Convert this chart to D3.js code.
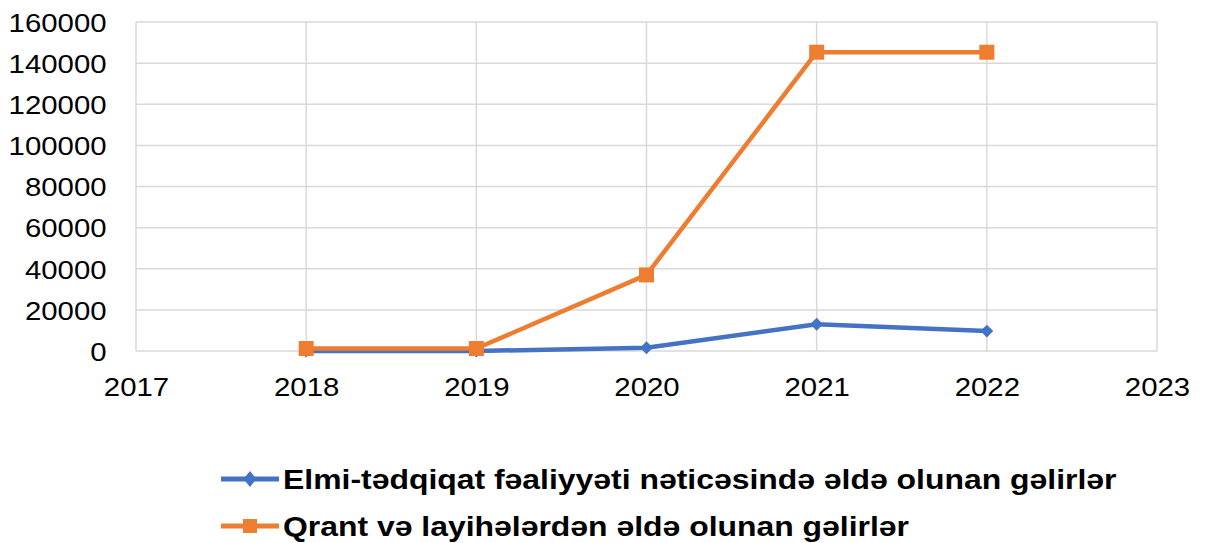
<!DOCTYPE html>
<html>
<head>
<meta charset="utf-8">
<script src="https://cdn.jsdelivr.net/npm/d3@7"></script>
<style>
  body { margin: 0; background: #fff; }
  text { font-family: "Liberation Sans", Arial, sans-serif; }
</style>
</head>
<body>
<script>
// years shown on the x axis (2017 and 2023 are empty ends)
var years = [2018, 2019, 2020, 2021, 2022];
var xTicks = [2017, 2018, 2019, 2020, 2021, 2022, 2023];
var yTicks = [0, 20000, 40000, 60000, 80000, 100000, 120000, 140000, 160000];

// series values
var elmiValues = [0, 0, 1600, 13000, 9700];
var qrantValues = [1200, 1200, 37000, 145300, 145300];

var seriesNames = [
  'Elmi-tədqiqat fəaliyyəti nəticəsində əldə olunan gəlirlər',
  'Qrant və layihələrdən əldə olunan gəlirlər'
];
var colors = ['#4472C4', '#ED7D31'];

var width = 1207, height = 543;
var margin = {left: 136, right: 50, top: 22, bottom: 192};

// the original picture is a bit wider than tall, so stretch the text
var stretch = 'scale(1.13,1)';

var svg = d3.select('body').append('svg')
  .attr('width', width)
  .attr('height', height);

var x = d3.scaleLinear()
  .domain([2017, 2023])
  .range([margin.left, width - margin.right]);

var y = d3.scaleLinear()
  .domain([0, 160000])
  .range([height - margin.bottom, margin.top]);

// gridlines
svg.append('g')
  .selectAll('line')
  .data(yTicks)
  .enter().append('line')
    .attr('x1', x(2017)).attr('x2', x(2023))
    .attr('y1', function(d) { return y(d); })
    .attr('y2', function(d) { return y(d); })
    .attr('stroke', '#d9d9d9')
    .attr('stroke-width', 1.5);

svg.append('g')
  .selectAll('line')
  .data(xTicks)
  .enter().append('line')
    .attr('x1', function(d) { return x(d); })
    .attr('x2', function(d) { return x(d); })
    .attr('y1', y(0)).attr('y2', y(160000))
    .attr('stroke', '#d9d9d9')
    .attr('stroke-width', 1.5);

// axes, labels only
var yAxis = svg.append('g')
  .attr('transform', 'translate(' + (margin.left - 26) + ',0)')
  .call(d3.axisLeft(y).tickValues(yTicks).tickSize(0).tickFormat(d3.format('d')));
yAxis.select('.domain').remove();
yAxis.selectAll('text')
  .attr('font-size', 26)
  .attr('fill', '#000')
  .attr('dy', '0.36em')
  .attr('transform', stretch)
  .style('font-family', '"Liberation Sans", Arial, sans-serif');

var xAxis = svg.append('g')
  .attr('transform', 'translate(0,' + y(0) + ')')
  .call(d3.axisBottom(x).tickValues(xTicks).tickSize(0).tickFormat(d3.format('d')));
xAxis.select('.domain').remove();
xAxis.selectAll('text')
  .attr('font-size', 26)
  .attr('fill', '#000')
  .attr('y', 27)
  .attr('transform', stretch)
  .style('font-family', '"Liberation Sans", Arial, sans-serif');

var line = d3.line()
  .x(function(d, i) { return x(years[i]); })
  .y(function(d) { return y(d); });

var allSeries = [elmiValues, qrantValues];

// lines
svg.selectAll('path.series')
  .data(allSeries)
  .enter().append('path')
    .attr('class', 'series')
    .attr('d', line)
    .attr('fill', 'none')
    .attr('stroke', function(d, i) { return colors[i]; })
    .attr('stroke-width', 4.5)
    .attr('stroke-linejoin', 'round');

// markers
var diamond = d3.symbol().type(d3.symbolDiamond2).size(105);
svg.append('g').selectAll('path')
  .data(elmiValues)
  .enter().append('path')
    .attr('d', diamond)
    .attr('transform', function(d, i) { return 'translate(' + x(years[i]) + ',' + y(d) + ')'; })
    .attr('fill', colors[0]);

svg.append('g').selectAll('rect')
  .data(qrantValues)
  .enter().append('rect')
    .attr('x', function(d, i) { return x(years[i]) - 7.5; })
    .attr('y', function(d) { return y(d) - 7.5; })
    .attr('width', 15).attr('height', 15)
    .attr('fill', colors[1]);

// legend
var legend = svg.append('g').selectAll('g')
  .data(seriesNames)
  .enter().append('g')
    .attr('transform', function(d, i) { return 'translate(221,' + (479 + i * 47) + ')'; });

legend.append('line')
  .attr('x1', 0).attr('x2', 58)
  .attr('stroke', function(d, i) { return colors[i]; })
  .attr('stroke-width', 5);

legend.append('path')
  .attr('d', function(d, i) { return i === 0 ? 'M0,-8L6.5,0L0,8L-6.5,0Z' : 'M-7,-7h14v14h-14z'; })
  .attr('transform', 'translate(29,0)')
  .attr('fill', function(d, i) { return colors[i]; });

legend.append('text')
  .attr('transform', 'translate(62,0) scale(1.14,1)')
  .attr('dy', '0.36em')
  .attr('font-size', 28)
  .attr('font-weight', 'bold')
  .attr('fill', '#000')
  .text(function(d) { return d; });
</script>
</body>
</html>
